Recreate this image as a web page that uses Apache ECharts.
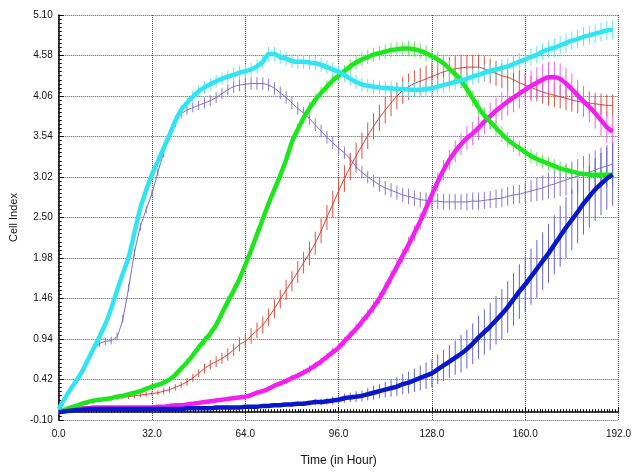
<!DOCTYPE html>
<html>
<head>
<meta charset="utf-8">
<script src="https://cdn.jsdelivr.net/npm/echarts@6/dist/echarts.min.js"></script>
<style>
  html, body { margin: 0; padding: 0; background: #fff; }
  #chart { width: 634px; height: 472px; }
</style>
</head>
<body>
<div id="chart"></div>
<script>
// time axis, one reading every 2 hours (0 .. 190 h)
var hours = [];
for (var h = 0; h <= 190; h += 2) hours.push(h);

var cyanVals = [
  0.04,0.17,0.29,0.40,0.52,0.67,0.82,0.97,1.13,1.33,
  1.56,1.78,1.99,2.31,2.62,2.85,3.05,3.22,3.39,3.56,
  3.74,3.88,3.97,4.05,4.12,4.17,4.21,4.25,4.28,4.31,
  4.33,4.36,4.38,4.40,4.44,4.50,4.60,4.60,4.56,4.54,
  4.51,4.50,4.50,4.49,4.48,4.46,4.43,4.40,4.37,4.33,
  4.28,4.24,4.21,4.19,4.18,4.17,4.16,4.16,4.15,4.15,
  4.14,4.14,4.14,4.15,4.16,4.18,4.20,4.22,4.24,4.26,
  4.28,4.31,4.33,4.36,4.38,4.40,4.42,4.44,4.47,4.50,
  4.53,4.56,4.59,4.63,4.66,4.68,4.71,4.74,4.77,4.79,
  4.82,4.84,4.86,4.88,4.90,4.91
];
var cyanErr = [
  0.02,0.02,0.02,0.03,0.03,0.03,0.03,0.04,0.04,0.04,
  0.04,0.05,0.05,0.05,0.05,0.06,0.06,0.06,0.06,0.07,
  0.07,0.07,0.07,0.08,0.08,0.08,0.08,0.08,0.08,0.08,
  0.09,0.09,0.09,0.09,0.09,0.09,0.09,0.09,0.09,0.09,
  0.09,0.09,0.09,0.09,0.09,0.09,0.09,0.09,0.09,0.09,
  0.09,0.09,0.09,0.09,0.09,0.09,0.09,0.09,0.09,0.09,
  0.10,0.10,0.10,0.10,0.10,0.10,0.10,0.10,0.10,0.10,
  0.10,0.10,0.10,0.10,0.10,0.11,0.11,0.11,0.11,0.11,
  0.11,0.11,0.11,0.11,0.11,0.12,0.12,0.12,0.12,0.12,
  0.12,0.12,0.12,0.12,0.12,0.12
];

var purpleVals = [
  0.04,0.16,0.28,0.40,0.52,0.66,0.80,0.88,0.91,0.92,
  0.97,1.20,1.60,2.05,2.38,2.60,2.81,3.08,3.33,3.57,
  3.72,3.83,3.88,3.91,3.94,3.97,4.00,4.04,4.09,4.14,
  4.18,4.20,4.21,4.22,4.22,4.22,4.20,4.16,4.10,4.04,
  3.97,3.90,3.84,3.77,3.69,3.61,3.53,3.46,3.39,3.33,
  3.25,3.15,3.08,3.02,2.97,2.92,2.88,2.85,2.82,2.79,
  2.77,2.75,2.73,2.72,2.71,2.71,2.70,2.70,2.70,2.70,
  2.70,2.71,2.71,2.72,2.73,2.74,2.75,2.77,2.79,2.80,
  2.82,2.84,2.86,2.88,2.91,2.93,2.96,2.98,3.01,3.03,
  3.06,3.08,3.11,3.14,3.16,3.19
];
var purpleErr = [
  0.02,0.02,0.02,0.02,0.03,0.03,0.03,0.04,0.05,0.05,
  0.05,0.05,0.05,0.05,0.05,0.05,0.05,0.05,0.06,0.06,
  0.06,0.06,0.06,0.06,0.06,0.07,0.07,0.07,0.07,0.07,
  0.08,0.08,0.08,0.08,0.08,0.08,0.08,0.08,0.08,0.08,
  0.08,0.08,0.08,0.08,0.08,0.08,0.08,0.08,0.08,0.08,
  0.08,0.08,0.08,0.08,0.08,0.09,0.09,0.09,0.09,0.09,
  0.10,0.10,0.10,0.10,0.10,0.10,0.10,0.10,0.10,0.10,
  0.11,0.11,0.11,0.11,0.11,0.12,0.12,0.12,0.12,0.12,
  0.13,0.14,0.15,0.16,0.17,0.18,0.19,0.20,0.21,0.22,
  0.23,0.24,0.25,0.26,0.27,0.28
];

var greenVals = [
  0.00,0.03,0.06,0.08,0.11,0.13,0.15,0.16,0.17,0.18,
  0.20,0.21,0.23,0.25,0.27,0.30,0.33,0.35,0.38,0.42,
  0.48,0.56,0.64,0.73,0.83,0.92,1.01,1.12,1.27,1.42,
  1.56,1.71,1.89,2.08,2.28,2.48,2.68,2.86,3.04,3.24,
  3.47,3.63,3.78,3.90,4.01,4.10,4.18,4.26,4.32,4.38,
  4.44,4.49,4.53,4.56,4.59,4.61,4.63,4.65,4.66,4.67,
  4.67,4.66,4.64,4.61,4.57,4.53,4.48,4.41,4.34,4.26,
  4.15,4.03,3.91,3.81,3.73,3.65,3.57,3.50,3.44,3.39,
  3.34,3.29,3.25,3.22,3.19,3.16,3.13,3.11,3.09,3.07,
  3.06,3.05,3.05,3.05,3.05,3.05
];
var greenErr = [
  0.02,0.02,0.02,0.02,0.02,0.02,0.02,0.02,0.02,0.02,
  0.02,0.02,0.02,0.02,0.02,0.03,0.03,0.03,0.03,0.03,
  0.04,0.04,0.05,0.05,0.05,0.06,0.06,0.06,0.06,0.07,
  0.07,0.07,0.07,0.07,0.07,0.07,0.07,0.07,0.07,0.07,
  0.08,0.08,0.08,0.08,0.08,0.08,0.08,0.08,0.08,0.08,
  0.09,0.09,0.09,0.09,0.09,0.09,0.09,0.09,0.09,0.09,
  0.10,0.10,0.10,0.10,0.10,0.10,0.10,0.10,0.10,0.10,
  0.10,0.10,0.10,0.10,0.10,0.10,0.10,0.10,0.10,0.10,
  0.09,0.09,0.09,0.09,0.09,0.09,0.09,0.09,0.09,0.09,
  0.08,0.08,0.08,0.08,0.08,0.08
];

var redVals = [
  0.00,0.03,0.06,0.08,0.10,0.12,0.13,0.15,0.16,0.17,
  0.18,0.19,0.20,0.21,0.22,0.23,0.24,0.25,0.27,0.29,
  0.32,0.35,0.39,0.44,0.50,0.56,0.61,0.65,0.69,0.74,
  0.80,0.87,0.91,0.98,1.05,1.12,1.22,1.33,1.45,1.57,
  1.68,1.80,1.92,2.04,2.17,2.33,2.50,2.67,2.84,3.00,
  3.15,3.29,3.42,3.55,3.67,3.78,3.88,3.97,4.06,4.13,
  4.18,4.22,4.25,4.28,4.31,4.34,4.37,4.39,4.41,4.42,
  4.43,4.43,4.43,4.41,4.38,4.35,4.32,4.30,4.27,4.23,
  4.20,4.17,4.14,4.11,4.09,4.07,4.05,4.03,4.01,3.99,
  3.98,3.97,3.96,3.95,3.94,3.94
];
var redErr = [
  0.01,0.01,0.02,0.02,0.02,0.02,0.02,0.02,0.02,0.02,
  0.02,0.02,0.03,0.03,0.03,0.03,0.03,0.03,0.04,0.04,
  0.04,0.04,0.05,0.05,0.05,0.06,0.06,0.07,0.07,0.08,
  0.08,0.09,0.09,0.10,0.10,0.11,0.11,0.12,0.12,0.13,
  0.13,0.14,0.14,0.15,0.15,0.16,0.16,0.17,0.17,0.17,
  0.17,0.17,0.17,0.17,0.17,0.17,0.17,0.17,0.17,0.17,
  0.17,0.17,0.17,0.17,0.17,0.17,0.17,0.17,0.17,0.17,
  0.16,0.16,0.16,0.16,0.16,0.16,0.16,0.16,0.16,0.16,
  0.15,0.15,0.15,0.15,0.15,0.15,0.15,0.15,0.15,0.15,
  0.14,0.14,0.14,0.14,0.14,0.14
];

var magentaVals = [
  0.00,0.02,0.03,0.04,0.05,0.05,0.06,0.06,0.06,0.06,
  0.06,0.06,0.06,0.06,0.06,0.06,0.06,0.07,0.07,0.08,
  0.09,0.09,0.10,0.11,0.12,0.13,0.14,0.15,0.16,0.17,
  0.18,0.19,0.20,0.22,0.25,0.27,0.30,0.34,0.37,0.40,
  0.44,0.47,0.51,0.55,0.60,0.65,0.71,0.77,0.83,0.91,
  0.99,1.07,1.16,1.25,1.35,1.46,1.59,1.73,1.87,2.01,
  2.15,2.30,2.45,2.62,2.79,2.96,3.11,3.24,3.35,3.44,
  3.52,3.58,3.65,3.73,3.80,3.87,3.93,3.99,4.04,4.09,
  4.14,4.19,4.23,4.27,4.30,4.30,4.28,4.22,4.15,4.07,
  3.99,3.92,3.84,3.75,3.66,3.60
];
var magentaErr = [
  0.01,0.01,0.01,0.01,0.01,0.01,0.01,0.01,0.01,0.01,
  0.01,0.01,0.01,0.01,0.01,0.01,0.01,0.01,0.01,0.01,
  0.01,0.01,0.01,0.01,0.01,0.02,0.02,0.02,0.02,0.02,
  0.02,0.02,0.02,0.02,0.03,0.03,0.03,0.03,0.03,0.04,
  0.04,0.04,0.04,0.05,0.05,0.05,0.05,0.06,0.06,0.06,
  0.06,0.07,0.07,0.07,0.08,0.08,0.08,0.09,0.09,0.09,
  0.10,0.10,0.11,0.11,0.12,0.12,0.13,0.13,0.14,0.14,
  0.15,0.15,0.16,0.16,0.17,0.17,0.18,0.18,0.19,0.19,
  0.20,0.20,0.20,0.20,0.20,0.20,0.20,0.20,0.20,0.20,
  0.20,0.20,0.20,0.20,0.20,0.20
];

var blueVals = [
  0.00,0.01,0.02,0.03,0.03,0.04,0.04,0.04,0.04,0.04,
  0.04,0.04,0.04,0.04,0.04,0.04,0.04,0.04,0.04,0.04,
  0.04,0.04,0.05,0.05,0.05,0.05,0.05,0.06,0.06,0.06,
  0.06,0.06,0.07,0.07,0.07,0.08,0.08,0.09,0.09,0.10,
  0.10,0.11,0.11,0.12,0.13,0.13,0.14,0.15,0.16,0.18,
  0.19,0.20,0.21,0.23,0.25,0.27,0.29,0.31,0.33,0.36,
  0.38,0.41,0.44,0.47,0.50,0.55,0.60,0.65,0.70,0.75,
  0.81,0.88,0.96,1.03,1.10,1.18,1.26,1.35,1.45,1.55,
  1.64,1.74,1.84,1.94,2.04,2.15,2.26,2.37,2.47,2.57,
  2.68,2.77,2.86,2.93,3.00,3.05
];
var blueErr = [
  0.01,0.01,0.01,0.01,0.01,0.01,0.01,0.01,0.01,0.01,
  0.01,0.01,0.01,0.01,0.01,0.01,0.01,0.01,0.01,0.01,
  0.01,0.01,0.01,0.01,0.01,0.01,0.01,0.01,0.01,0.01,
  0.01,0.01,0.01,0.01,0.02,0.02,0.02,0.02,0.02,0.02,
  0.03,0.03,0.03,0.03,0.04,0.04,0.04,0.05,0.05,0.06,
  0.06,0.07,0.07,0.08,0.09,0.09,0.10,0.11,0.12,0.13,
  0.14,0.15,0.16,0.17,0.18,0.19,0.20,0.21,0.22,0.24,
  0.25,0.26,0.28,0.29,0.30,0.31,0.32,0.33,0.34,0.35,
  0.36,0.36,0.37,0.37,0.38,0.38,0.39,0.39,0.39,0.40,
  0.40,0.40,0.40,0.40,0.40,0.40
];

var chartDom = document.getElementById('chart');
var myChart = echarts.init(chartDom, null, { renderer: 'canvas' });
var option;

var font = 'Liberation Sans, Arial, sans-serif';

// name, values, errors, line colour, bar colour, line width, z
var curves = [
  ['purple', purpleVals, purpleErr, '#7668c8', '#8878d4', 1, 3],
  ['red', redVals, redErr, '#d83a2c', '#e0503e', 1, 3],
  ['magenta', magentaVals, magentaErr, '#f020ee', '#f060f0', 4.5, 4],
  ['green', greenVals, greenErr, '#1ee61e', '#5eec55', 4.5, 4],
  ['blue', blueVals, blueErr, '#0818c8', '#6464d4', 4.5, 5],
  ['cyan', cyanVals, cyanErr, '#30e4f2', '#60e6f4', 4.5, 5]
];

var series = [];
curves.forEach(function (c) {
  var barColor = c[4];
  var bars = hours.map(function (t, i) {
    return [t, c[1][i] - c[2][i], c[1][i] + c[2][i]];
  });
  series.push({
    name: c[0] + ' err',
    type: 'custom',
    z: 2,
    clip: true,
    silent: true,
    encode: { x: 0, y: [1, 2] },
    data: bars,
    renderItem: function (params, api) {
      var p1 = api.coord([api.value(0), api.value(1)]);
      var p2 = api.coord([api.value(0), api.value(2)]);
      return {
        type: 'line',
        shape: { x1: p1[0], y1: p1[1], x2: p2[0], y2: p2[1] },
        style: { stroke: barColor, lineWidth: 1 }
      };
    }
  });
});
curves.forEach(function (c) {
  series.push({
    name: c[0],
    type: 'line',
    z: c[6],
    symbol: 'none',
    smooth: 0.2,
    lineStyle: { color: c[3], width: c[5] },
    data: hours.map(function (t, i) { return [t, c[1][i]]; })
  });
});

option = {
  animation: false,
  backgroundColor: '#fff',
  grid: { left: 36, right: 9, top: 15, bottom: 46 },
  xAxis: {
    type: 'value',
    min: 0,
    max: 192,
    interval: 32,
    name: 'Time (in Hour)',
    nameLocation: 'middle',
    nameGap: 35,
    nameTextStyle: { fontFamily: font, fontSize: 12, color: '#111' },
    axisLine: { lineStyle: { color: '#000', width: 1.5 } },
    axisTick: { inside: true, length: 5, lineStyle: { color: '#000' } },
    minorTick: { show: true, splitNumber: 32, length: 3, lineStyle: { color: '#000' } },
    axisLabel: {
      fontFamily: font, fontSize: 10, color: '#111', margin: 9,
      formatter: function (v) { return v.toFixed(1); }
    },
    splitLine: { show: true, lineStyle: { color: '#555', type: 'dotted', width: 1 } }
  },
  yAxis: {
    type: 'value',
    min: -0.10,
    max: 5.10,
    interval: 0.52,
    name: 'Cell Index',
    nameLocation: 'middle',
    nameRotate: 90,
    nameGap: 28,
    nameTextStyle: { fontFamily: font, fontSize: 11, color: '#111' },
    axisLine: { show: true, lineStyle: { color: '#000', width: 1.5 } },
    axisTick: { show: true, inside: true, length: 5, lineStyle: { color: '#000' } },
    minorTick: { show: true, splitNumber: 10, length: 3, lineStyle: { color: '#000' } },
    axisLabel: {
      fontFamily: font, fontSize: 10, color: '#111', margin: 6,
      formatter: function (v) { return v.toFixed(2); }
    },
    splitLine: { show: true, lineStyle: { color: '#555', type: 'dotted', width: 1 } }
  },
  series: series
};

if (option && typeof option === 'object') {
  myChart.setOption(option);
}
</script>
</body>
</html>
